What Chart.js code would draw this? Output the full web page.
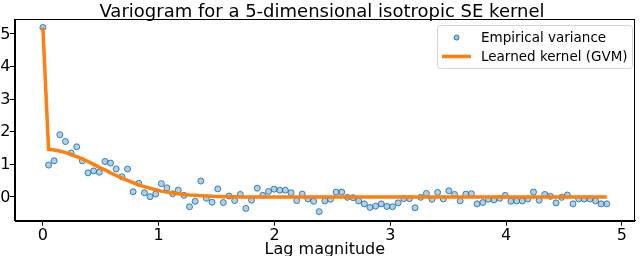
<!DOCTYPE html>
<html>
<head>
<meta charset="utf-8">
<script src="https://cdn.jsdelivr.net/npm/chart.js@4"></script>
<style>
  html, body { margin: 0; padding: 0; background: #fff; overflow: hidden; }
  #wrap { position: absolute; left: 0; top: 0; width: 640px; height: 262px; }
</style>
</head>
<body>
<div id="wrap"><canvas id="variogram"></canvas></div>
<script>
// lag values (x axis)
var lags = [
  0, 0.049, 0.097, 0.146, 0.195, 0.244, 0.292, 0.341, 0.390, 0.438,
  0.487, 0.536, 0.584, 0.633, 0.682, 0.731, 0.779, 0.828, 0.877, 0.925,
  0.974, 1.023, 1.071, 1.120, 1.169, 1.218, 1.266, 1.315, 1.364, 1.412,
  1.461, 1.510, 1.558, 1.607, 1.656, 1.705, 1.753, 1.802, 1.851, 1.899,
  1.948, 1.997, 2.045, 2.094, 2.143, 2.192, 2.240, 2.289, 2.338, 2.386,
  2.435, 2.484, 2.532, 2.581, 2.630, 2.679, 2.727, 2.776, 2.825, 2.873,
  2.922, 2.971, 3.019, 3.068, 3.117, 3.166, 3.214, 3.263, 3.312, 3.360,
  3.409, 3.458, 3.506, 3.555, 3.604, 3.653, 3.701, 3.750, 3.799, 3.847,
  3.896, 3.945, 3.993, 4.042, 4.091, 4.140, 4.188, 4.237, 4.286, 4.334,
  4.383, 4.432, 4.480, 4.529, 4.578, 4.627, 4.675, 4.724, 4.773, 4.821,
  4.870
];

// empirical variance (scatter)
var empirical = [
  5.20, 0.98, 1.11, 1.91, 1.70, 1.35, 1.54, 1.11, 0.74, 0.80,
  0.76, 1.09, 1.04, 0.86, 0.62, 0.86, 0.16, 0.42, 0.13, 0.01,
  0.09, 0.41, 0.28, 0.10, 0.21, 0.05, -0.30, -0.13, 0.49, -0.04,
  -0.16, 0.25, -0.17, 0.03, -0.11, 0.08, -0.35, -0.10, 0.27, 0.05,
  0.17, 0.24, 0.21, 0.21, 0.13, -0.11, 0.09, -0.06, -0.13, -0.45,
  -0.12, -0.07, 0.15, 0.15, -0.01, -0.02, -0.12, -0.21, -0.32, -0.28,
  -0.21, -0.29, -0.30, -0.18, -0.05, -0.05, -0.33, -0.01, 0.11, -0.07,
  0.14, -0.06, 0.19, 0.08, -0.12, 0.09, 0.10, -0.21, -0.17, -0.07,
  -0.09, -0.04, 0.05, -0.13, -0.12, -0.12, -0.06, 0.15, -0.10, 0.08,
  0.02, -0.18, -0.01, 0.06, -0.21, -0.06, -0.06, -0.06, -0.12, -0.21,
  -0.21
];

// learned kernel (GVM) line
var learned = [
  5.20, 1.46, 1.44, 1.41, 1.36, 1.31, 1.24, 1.17, 1.09, 1.00,
  0.91, 0.83, 0.74, 0.66, 0.58, 0.51, 0.44, 0.37, 0.32, 0.27,
  0.22, 0.18, 0.15, 0.12, 0.10, 0.08, 0.06, 0.05, 0.04, 0.03,
  0.02, 0.015, 0.01, 0.01, 0.006, 0, 0, 0, 0, 0,
  0, 0, 0, 0, 0, 0, 0, 0, 0, 0,
  0, 0, 0, 0, 0, 0, 0, 0, 0, 0,
  0, 0, 0, 0, 0, 0, 0, 0, 0, 0,
  0, 0, 0, 0, 0, 0, 0, 0, 0, 0,
  0, 0, 0, 0, 0, 0, 0, 0, 0, 0,
  0, 0, 0, 0, 0, 0, 0, 0, 0, 0,
  0
];

var xTicks = [0, 1, 2, 3, 4, 5];
var yTicks = [0, 1, 2, 3, 4, 5];

var titleText = 'Variogram for a 5-dimensional isotropic SE kernel';
var seriesNames = ['Empirical variance', 'Learned kernel (GVM)'];

var blue = '#1f77b4';
var orange = '#ff7f0e';

Chart.defaults.font.family = "'DejaVu Sans', sans-serif";
Chart.defaults.color = '#000';

function pairs(ys) {
  var out = [];
  for (var i = 0; i < lags.length; i++) out.push({x: lags[i], y: ys[i]});
  return out;
}

// frame, title, y tick labels and legend box drawn the matplotlib way
var decorPlugin = {
  id: 'decor',
  afterDraw: function(chart) {
    var ctx = chart.ctx;
    var a = chart.chartArea;
    var yScale = chart.scales.y;
    ctx.save();
    ctx.strokeStyle = '#000';
    ctx.lineWidth = 1;
    ctx.strokeRect(Math.round(a.left) + 0.5, Math.round(a.top) + 0.5,
                   Math.round(a.right - a.left) - 1, Math.round(a.bottom - a.top));

    ctx.fillStyle = '#000';
    ctx.font = "18px 'DejaVu Sans'";
    ctx.textAlign = 'center';
    ctx.textBaseline = 'alphabetic';
    ctx.fillText(titleText, 322, 17);

    ctx.font = "16px 'DejaVu Sans'";
    ctx.textAlign = 'right';
    ctx.textBaseline = 'middle';
    yTicks.forEach(function(v) {
      ctx.fillText(String(v), 10.5, yScale.getPixelForValue(v) + 0.5);
    });

    // legend
    var lx = 437, ly = 25, lw = 195, lh = 43;
    ctx.beginPath();
    ctx.roundRect(lx + 0.5, ly + 0.5, lw, lh, 3);
    ctx.fillStyle = 'rgba(255,255,255,0.8)';
    ctx.fill();
    ctx.strokeStyle = '#d5d5d5';
    ctx.lineWidth = 1;
    ctx.stroke();

    ctx.beginPath();
    ctx.arc(456.5, 37.5, 2.5, 0, Math.PI * 2);
    ctx.fillStyle = 'rgba(31,119,180,0.45)';
    ctx.fill();
    ctx.strokeStyle = blue;
    ctx.stroke();

    ctx.beginPath();
    ctx.moveTo(442, 56.5);
    ctx.lineTo(471, 56.5);
    ctx.strokeStyle = orange;
    ctx.lineWidth = 3.5;
    ctx.stroke();

    ctx.fillStyle = '#000';
    ctx.font = "13.5px 'DejaVu Sans'";
    ctx.textAlign = 'left';
    ctx.textBaseline = 'middle';
    ctx.fillText(seriesNames[0], 481, 38);
    ctx.fillText(seriesNames[1], 481, 57);
    ctx.restore();
  }
};

new Chart(document.getElementById('variogram'), {
  type: 'scatter',
  data: {
    datasets: [{
      type: 'line',
      label: seriesNames[1],
      data: pairs(learned),
      borderColor: orange,
      borderWidth: 3.5,
      pointRadius: 0,
      tension: 0,
      fill: false,
      order: 0
    }, {
      label: seriesNames[0],
      data: pairs(empirical),
      pointRadius: 3,
      pointBackgroundColor: 'rgba(31,119,180,0.35)',
      pointBorderColor: 'rgba(31,119,180,0.9)',
      pointBorderWidth: 1,
      order: 1
    }]
  },
  options: {
    responsive: true,
    maintainAspectRatio: false,
    animation: false,
    layout: { padding: { top: 19, right: 2, left: 0, bottom: 0 } },
    plugins: {
      legend: { display: false },
      title: { display: false },
      tooltip: { enabled: false }
    },
    scales: {
      x: {
        type: 'linear',
        min: -0.2435,
        max: 5.1135,
        afterBuildTicks: function(s) { s.ticks = xTicks.map(function(v) { return {value: v}; }); },
        afterFit: function(s) { s.height = 41.3; },
        grid: { drawOnChartArea: false, tickLength: 5, color: '#000' },
        border: { color: '#000' },
        ticks: { font: { size: 16 }, color: '#000', padding: 1, maxRotation: 0 },
        title: { display: true, text: 'Lag magnitude', font: { size: 16 }, color: '#000',
                 padding: { top: 0, bottom: 3 } }
      },
      y: {
        min: -0.727,
        max: 5.46,
        afterBuildTicks: function(s) { s.ticks = yTicks.map(function(v) { return {value: v}; }); },
        afterFit: function(s) { s.width = 14.7; },
        grid: { drawOnChartArea: false, tickLength: 5, color: '#000' },
        border: { color: '#000' },
        ticks: { display: false }
      }
    }
  },
  plugins: [decorPlugin]
});
</script>
</body>
</html>
